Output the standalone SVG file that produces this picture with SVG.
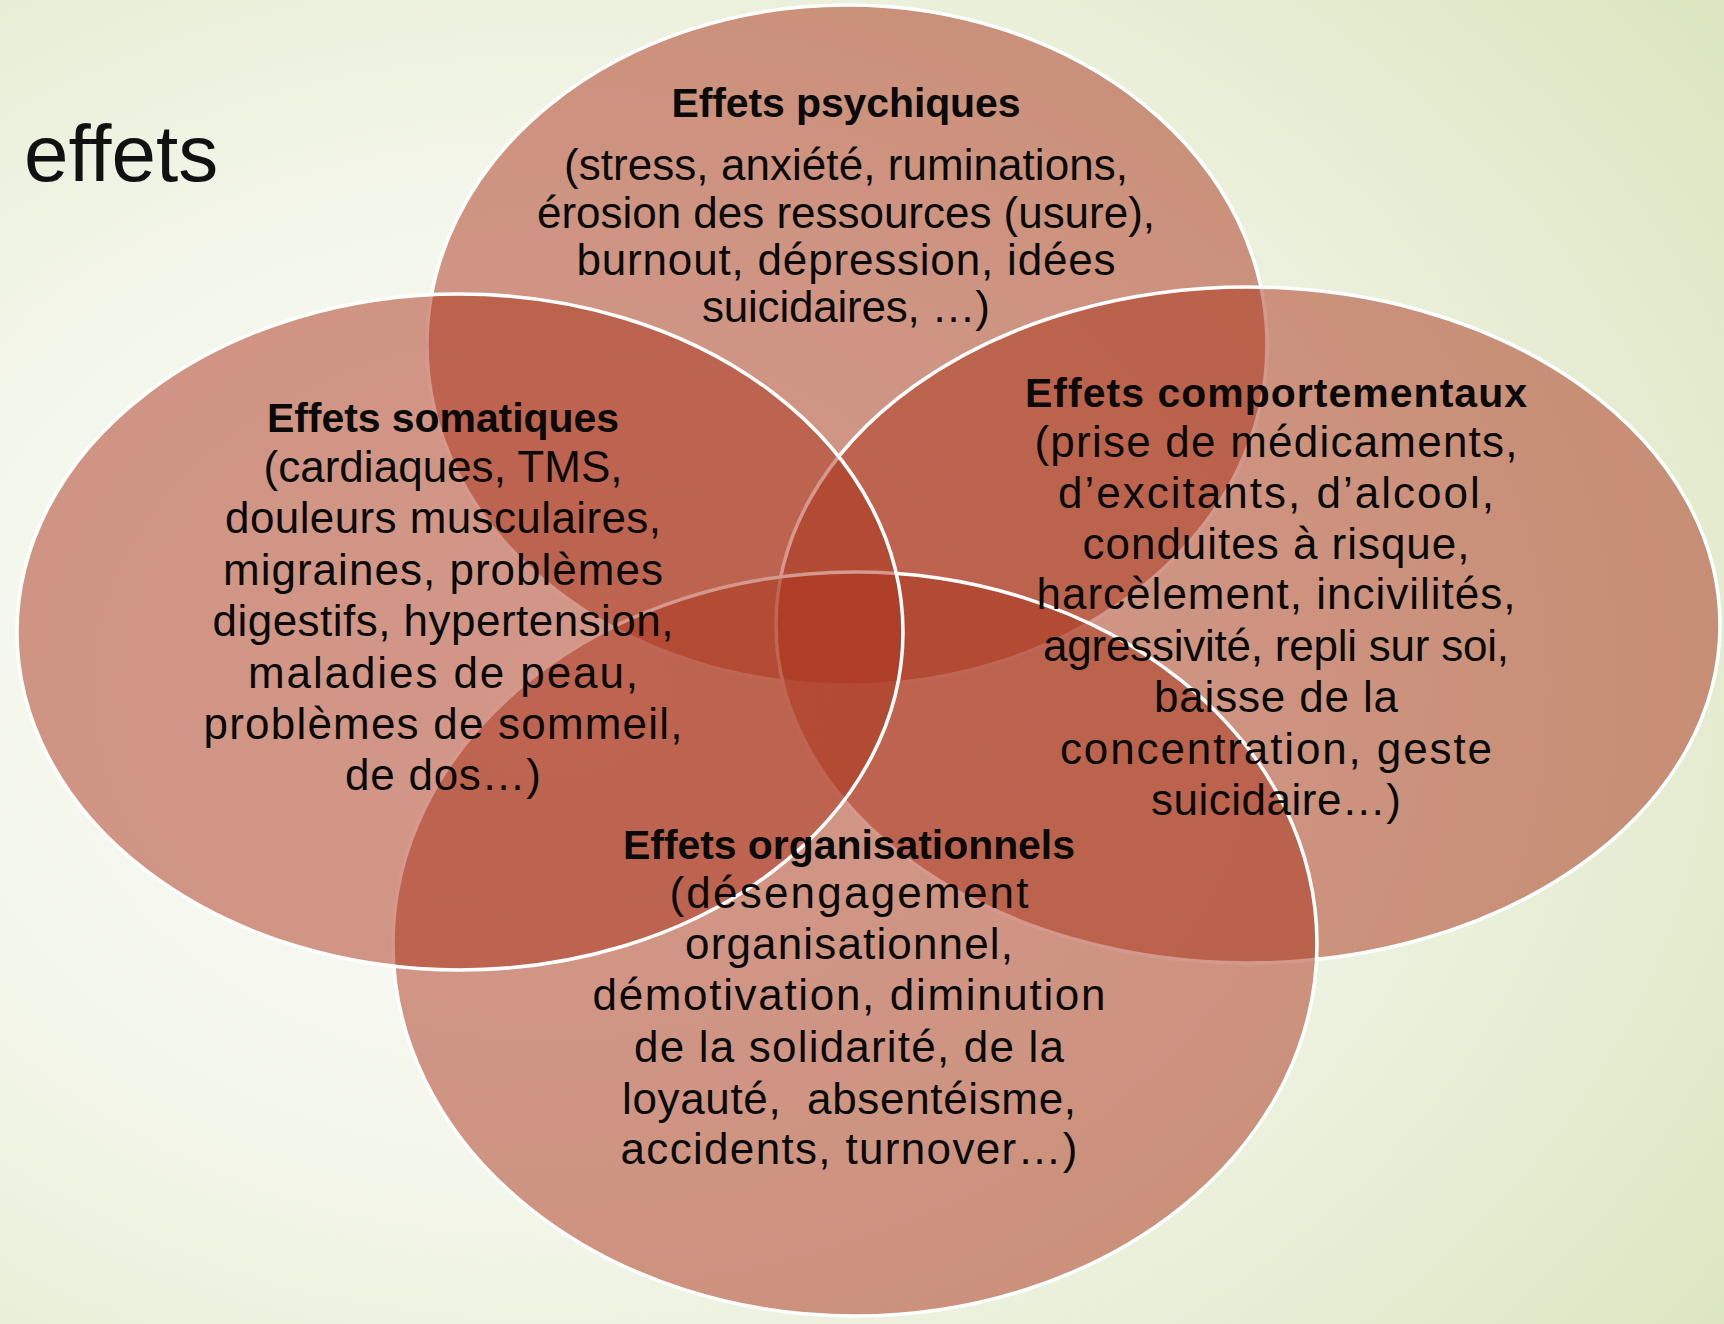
<svg xmlns="http://www.w3.org/2000/svg" width="1724" height="1324" viewBox="0 0 1724 1324">
  <defs>
    <radialGradient id="bg" cx="0.32" cy="0.52" r="0.85">
      <stop offset="0" stop-color="#FBFCF8"/>
      <stop offset="0.45" stop-color="#F3F6EA"/>
      <stop offset="1" stop-color="#DCE5C0"/>
    </radialGradient>
    <style>
      .set { fill: #A9321A; fill-opacity: 0.5; stroke: #FFFFFF; stroke-width: 3.5; }
      .title { font-family: "Liberation Sans", Arial, sans-serif; font-weight: bold; font-size: 41px; fill: #0A0A0A; text-anchor: middle; }
      .body { font-family: "Liberation Sans", Arial, sans-serif; font-size: 44px; fill: #0A0A0A; text-anchor: middle; }
      .heading { font-family: "Liberation Sans", Arial, sans-serif; font-size: 80px; fill: #111111; }
    </style>
  </defs>

  <!-- background -->
  <rect x="0" y="0" width="1724" height="1324" fill="url(#bg)"/>

  <!-- slide heading -->
  <text class="heading" x="24" y="181">effets</text>

  <!-- the four overlapping sets, drawn in stacking order -->
  <g id="node-psychiques">
    <ellipse class="set" cx="847" cy="345" rx="420" ry="340"/>
  </g>
  <g id="node-comportementaux">
    <ellipse class="set" cx="1248" cy="625" rx="472" ry="338"/>
  </g>
  <g id="node-organisationnels">
    <ellipse class="set" cx="855" cy="944" rx="462" ry="372"/>
  </g>
  <g id="node-somatiques">
    <ellipse class="set" cx="460" cy="632" rx="443" ry="338"/>
  </g>

  <!-- labels sit above every set -->
  <g id="label-psychiques">
    <text class="title" x="846" y="117" textLength="349" lengthAdjust="spacing">Effets psychiques</text>
    <text class="body" x="846" y="180" textLength="564" lengthAdjust="spacing">(stress, anxiété, ruminations,</text>
    <text class="body" x="846" y="228" textLength="618" lengthAdjust="spacing">érosion des ressources (usure),</text>
    <text class="body" x="846" y="275" textLength="539" lengthAdjust="spacing">burnout, dépression, idées</text>
    <text class="body" x="846" y="322" textLength="288" lengthAdjust="spacing">suicidaires, …)</text>
  </g>

  <g id="label-somatiques">
    <text class="title" x="443" y="432" textLength="352" lengthAdjust="spacing">Effets somatiques</text>
    <text class="body" x="443" y="482" textLength="359" lengthAdjust="spacing">(cardiaques, TMS,</text>
    <text class="body" x="443" y="533" textLength="436" lengthAdjust="spacing">douleurs musculaires,</text>
    <text class="body" x="443" y="585" textLength="440" lengthAdjust="spacing">migraines, problèmes</text>
    <text class="body" x="443" y="636" textLength="461" lengthAdjust="spacing">digestifs, hypertension,</text>
    <text class="body" x="443" y="688" textLength="390" lengthAdjust="spacing">maladies de peau,</text>
    <text class="body" x="443" y="739" textLength="479" lengthAdjust="spacing">problèmes de sommeil,</text>
    <text class="body" x="443" y="790" textLength="196" lengthAdjust="spacing">de dos…)</text>
  </g>

  <g id="label-comportementaux">
    <text class="title" x="1276" y="407" textLength="502" lengthAdjust="spacing">Effets comportementaux</text>
    <text class="body" x="1276" y="457" textLength="483" lengthAdjust="spacing">(prise de médicaments,</text>
    <text class="body" x="1276" y="508" textLength="436" lengthAdjust="spacing">d’excitants, d’alcool,</text>
    <text class="body" x="1276" y="559" textLength="387" lengthAdjust="spacing">conduites à risque,</text>
    <text class="body" x="1276" y="609" textLength="479" lengthAdjust="spacing">harcèlement, incivilités,</text>
    <text class="body" x="1276" y="661" textLength="466" lengthAdjust="spacing">agressivité, repli sur soi,</text>
    <text class="body" x="1276" y="712" textLength="244" lengthAdjust="spacing">baisse de la</text>
    <text class="body" x="1276" y="764" textLength="432" lengthAdjust="spacing">concentration, geste</text>
    <text class="body" x="1276" y="815" textLength="250" lengthAdjust="spacing">suicidaire…)</text>
  </g>

  <g id="label-organisationnels">
    <text class="title" x="849" y="859" textLength="452" lengthAdjust="spacing">Effets organisationnels</text>
    <text class="body" x="849" y="908" textLength="359" lengthAdjust="spacing">(désengagement</text>
    <text class="body" x="849" y="959" textLength="328" lengthAdjust="spacing">organisationnel,</text>
    <text class="body" x="849" y="1010" textLength="513" lengthAdjust="spacing">démotivation, diminution</text>
    <text class="body" x="849" y="1062" textLength="430" lengthAdjust="spacing">de la solidarité, de la</text>
    <text class="body" x="849" y="1114" textLength="454" lengthAdjust="spacing" xml:space="preserve" style="white-space:pre">loyauté,  absentéisme,</text>
    <text class="body" x="849" y="1164" textLength="457" lengthAdjust="spacing">accidents, turnover…)</text>
  </g>
</svg>
